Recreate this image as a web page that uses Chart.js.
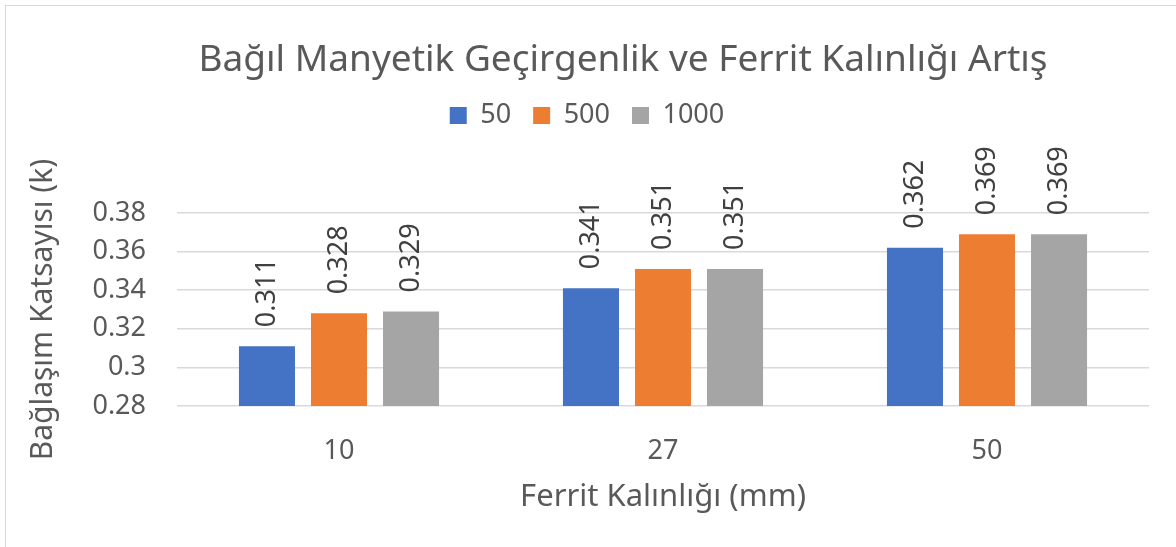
<!DOCTYPE html>
<html>
<head>
<meta charset="utf-8">
<script src="https://cdn.jsdelivr.net/npm/chart.js@4"></script>
<style>
  body { margin: 0; background: #fff; }
  #frame { position: absolute; left: 5px; top: 5px; width: 1300px; height: 700px; border: 1.5px solid #d9d9d9; }
  #wrap { position: absolute; left: 0; top: 0; width: 1176px; height: 547px; }
</style>
</head>
<body>
<div id="frame"></div>
<div id="wrap"><canvas id="barChart"></canvas></div>
<script>
var categories = ['10', '27', '50'];
var seriesNames = ['50', '500', '1000'];
var series50 = [0.311, 0.341, 0.362];
var series500 = [0.328, 0.351, 0.369];
var series1000 = [0.329, 0.351, 0.369];
var yTicks = [0.28, 0.3, 0.32, 0.34, 0.36, 0.38];

var textColor = '#595959';
var fontFamily = "'Noto Sans', sans-serif";

// value labels standing on top of each bar, rotated like the Excel original
var barLabels = {
  id: 'barLabels',
  afterDatasetsDraw: function (chart) {
    var ctx = chart.ctx;
    ctx.save();
    ctx.fillStyle = '#404040';
    ctx.font = '27px ' + fontFamily;
    ctx.textAlign = 'left';
    ctx.textBaseline = 'middle';
    chart.data.datasets.forEach(function (ds, i) {
      chart.getDatasetMeta(i).data.forEach(function (bar, j) {
        ctx.save();
        ctx.translate(bar.x, bar.y - 19);
        ctx.rotate(-Math.PI / 2);
        ctx.fillText(String(ds.data[j]), 0, 0);
        ctx.restore();
      });
    });
    ctx.restore();
  }
};

// chart heading, centred a bit right of the canvas middle
var heading = {
  id: 'heading',
  afterDraw: function (chart) {
    var ctx = chart.ctx;
    ctx.save();
    ctx.fillStyle = textColor;
    ctx.font = '37px ' + fontFamily;
    ctx.textAlign = 'center';
    ctx.textBaseline = 'middle';
    ctx.fillText('Bağıl Manyetik Geçirgenlik ve Ferrit Kalınlığı Artış', 623, 60);
    ctx.restore();
  }
};

// extra room under the legend so the value labels fit above the plot
var legendSpace = {
  id: 'legendSpace',
  beforeInit: function (chart) {
    var fit = chart.legend.fit;
    chart.legend.fit = function () {
      fit.call(this);
      this.height += 74;
    };
  }
};

var data = {
  labels: categories,
  datasets: [
    { label: seriesNames[0], data: series50, backgroundColor: '#4472C4' },
    { label: seriesNames[1], data: series500, backgroundColor: '#ED7D31' },
    { label: seriesNames[2], data: series1000, backgroundColor: '#A5A5A5' }
  ]
};

var options = {
  responsive: true,
  maintainAspectRatio: false,
  animation: false,
  categoryPercentage: 0.667,
  barPercentage: 0.778,
  layout: {
    padding: { left: 25, right: 27, top: 80, bottom: 31 }
  },
  plugins: {
    title: { display: false },
    tooltip: { enabled: false },
    legend: {
      position: 'top',
      labels: {
        boxWidth: 17,
        boxHeight: 17,
        padding: 22,
        color: textColor,
        font: { family: fontFamily, size: 27 }
      }
    }
  },
  scales: {
    x: {
      grid: { display: false },
      border: { display: false },
      ticks: { color: textColor, padding: 21, font: { family: fontFamily, size: 27 } },
      title: {
        display: true,
        text: 'Ferrit Kalınlığı (mm)',
        color: textColor,
        padding: 0,
        font: { family: fontFamily, size: 31 }
      },
      afterFit: function (scale) { scale.height = 110; }
    },
    y: {
      min: 0.28,
      max: 0.38,
      grid: { color: '#d9d9d9', lineWidth: 1.5, drawTicks: false },
      border: { display: false },
      ticks: {
        stepSize: 0.02,
        padding: 31,
        color: textColor,
        font: { family: fontFamily, size: 27 },
        callback: function (v) { return String(+v.toFixed(2)); }
      },
      title: {
        display: true,
        text: 'Bağlaşım Katsayısı (k)',
        color: textColor,
        padding: 0,
        font: { family: fontFamily, size: 30 }
      },
      afterFit: function (scale) { scale.width = 152; }
    }
  }
};

var ctx = document.getElementById('barChart').getContext('2d');
var myBarChart = new Chart(ctx, {
  type: 'bar',
  data: data,
  options: options,
  plugins: [barLabels, heading, legendSpace]
});
</script>
</body>
</html>
